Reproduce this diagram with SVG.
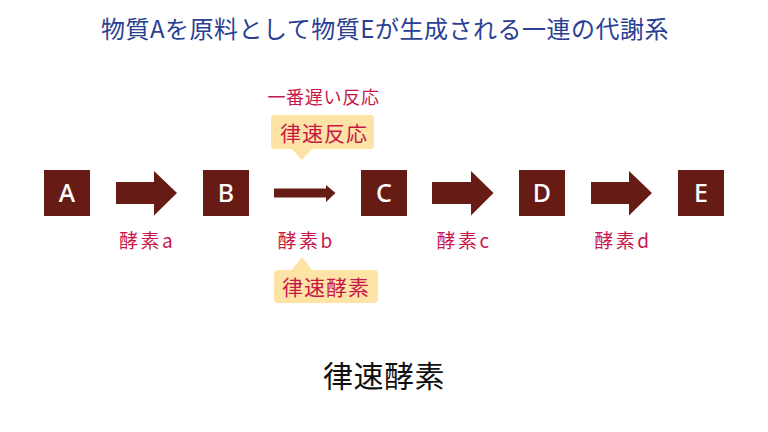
<svg xmlns="http://www.w3.org/2000/svg" width="768" height="432" viewBox="0 0 768 432">
<style>
.jp{font-family:"Noto Sans CJK JP","Noto Sans",sans-serif}
.node rect{fill:#661c15}
.node text{fill:#fff;font-family:"Noto Sans","Noto Sans CJK JP",sans-serif;font-size:25px;font-weight:500;text-anchor:middle}
.arr{fill:#661c15}
.lbl{fill:#c8184a;font-size:19px;letter-spacing:2.5px}
.call{fill:#fde3a5}
</style>
<rect width="768" height="432" fill="#fff"/>
<text class="jp" x="385" y="38" font-size="24" letter-spacing="0.5" fill="#2b3f93" text-anchor="middle">物質Aを原料として物質Eが生成される一連の代謝系</text>
<g id="A" class="node"><rect x="44" y="170" width="46" height="46"/><text x="67" y="202">A</text></g>
<g id="B" class="node"><rect x="203" y="170" width="46" height="46"/><text x="226" y="202">B</text></g>
<g id="C" class="node"><rect x="361" y="170" width="46" height="46"/><text x="384" y="202">C</text></g>
<g id="D" class="node"><rect x="519" y="170" width="46" height="46"/><text x="542" y="202">D</text></g>
<g id="E" class="node"><rect x="678" y="170" width="46" height="46"/><text x="701" y="202">E</text></g>
<g id="connectors">
<polygon class="arr" points="116,182 154,182 154,171 177,193 154,215.5 154,204 116,204"/>
<polygon class="arr" points="274,188.5 326,188.5 326,185 335.5,193 326,202 326,197.5 274,197.5"/>
<polygon class="arr" points="432,182 471,182 471,171 493.5,193 471,215.5 471,204 432,204"/>
<polygon class="arr" points="591,182 629,182 629,171 652,193 629,215.5 629,204 591,204"/>
</g>
<g class="jp lbl">
<text x="147" y="248" text-anchor="middle">酵素a</text>
<text x="306" y="248" text-anchor="middle">酵素b</text>
<text x="464" y="248" text-anchor="middle">酵素c</text>
<text x="623" y="248" text-anchor="middle">酵素d</text>
<text x="323.5" y="104" text-anchor="middle" font-size="18" letter-spacing="0.7">一番遅い反応</text>
</g>
<g id="callout-top">
<rect class="call" x="271" y="115" width="103" height="34" rx="4"/>
<polygon class="call" points="291,148 313,148 302,160"/>
<text class="jp" x="324" y="141" font-size="21" letter-spacing="1" fill="#c8184a" text-anchor="middle">律速反応</text>
</g>
<g id="callout-bottom">
<rect class="call" x="274" y="270" width="104" height="33" rx="4"/>
<polygon class="call" points="291,271 313,271 302,257"/>
<text class="jp" x="326" y="295" font-size="21" letter-spacing="1" fill="#c8184a" text-anchor="middle">律速酵素</text>
</g>
<text class="jp" x="384" y="387" font-size="30" letter-spacing="0.5" fill="#111" text-anchor="middle">律速酵素</text>
</svg>
